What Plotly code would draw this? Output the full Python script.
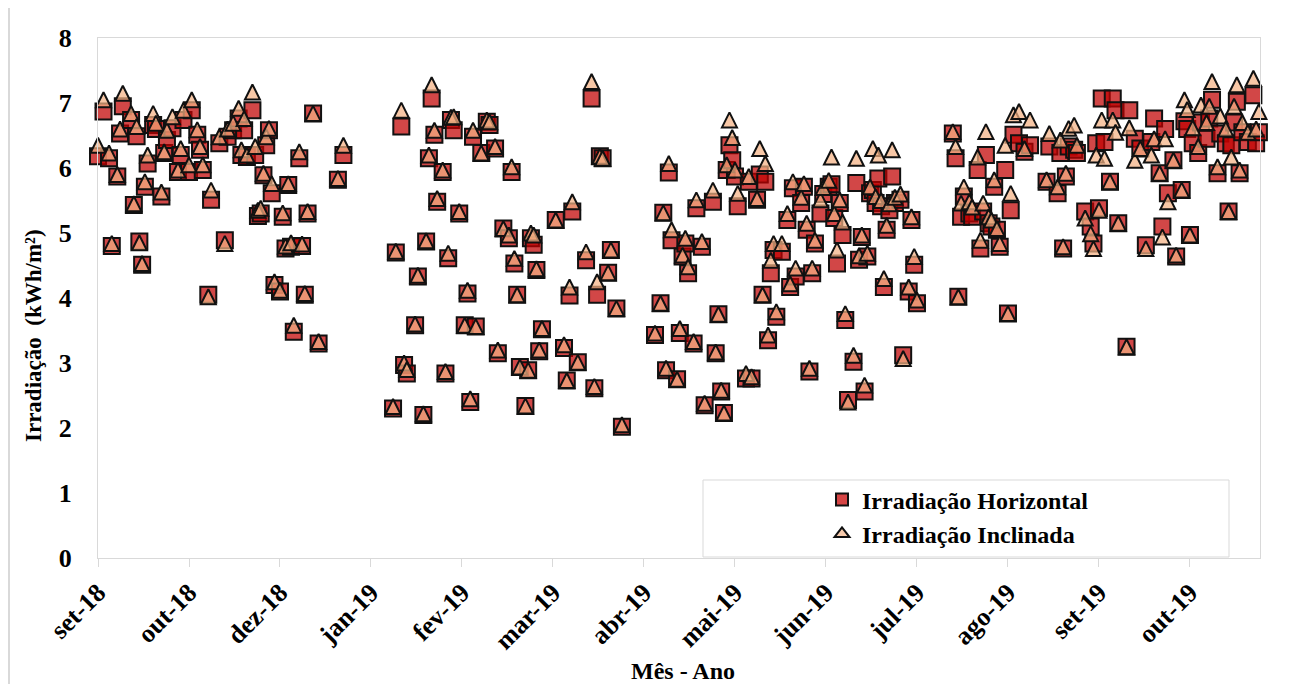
import pandas as pd
import plotly.graph_objects as go

# ---------------- data ----------------
data_inicio = "2018-09-27"          # first day of the series
passo_ticks_dias = 33               # spacing of the date ticks (days)
fim_eixo_dias = 421.4               # axis end, days after data_inicio

tick_labels = ["set-18", "out-18", "dez-18", "jan-19", "fev-19", "mar-19", "abr-19",
               "mai-19", "jun-19", "jul-19", "ago-19", "set-19", "out-19"]

# day number counted from data_inicio
dia = [
    0, 2, 4, 5, 7, 8, 9, 12, 13, 14, 15, 16, 17, 18, 20, 21, 23, 24, 25, 27, 29,
    30, 31, 33, 34, 36, 37, 38, 40, 41, 44, 46, 47, 49, 51, 52, 53, 54, 56, 57, 58, 59,
    60, 61, 62, 63, 64, 66, 67, 68, 69, 70, 71, 73, 74, 75, 76, 78, 80, 87, 89,
    107, 108, 110, 111, 112, 115, 116, 118, 119, 120, 121, 122, 123, 125,
    126, 127, 128, 129, 131, 133, 134, 135, 136, 137, 139, 141, 142, 144,
    145, 147, 149, 150, 151, 152, 153, 155, 156, 157, 158, 159, 160, 161,
    166, 169, 170, 171, 172, 174, 177, 179, 180, 181, 182, 183, 185, 186, 188, 190,
    202, 204, 205, 206, 207, 208, 210, 211, 212, 213, 214, 216, 217, 219,
    220, 223, 224, 225, 226, 227, 228, 229, 230, 231, 232, 235, 236, 237,
    239, 240, 241, 242, 243, 244, 245, 246, 248, 250, 251, 252, 253, 255,
    256, 257, 258, 259, 260, 262, 263, 265, 266, 267, 268, 269, 270, 271,
    272, 274, 275, 276, 277, 278, 279, 280, 281, 282, 283, 284, 285, 286,
    287, 288, 289, 291, 292, 294, 295, 296, 297,
    310, 311, 312, 313, 314, 316, 317, 319, 320, 321, 322, 323, 324, 325,
    326, 327, 329, 330, 331, 332, 334, 336, 338, 344, 345, 348, 349, 350,
    351, 352, 354, 355, 358, 360, 361, 362, 363, 364, 365, 367, 368, 369,
    370, 373, 374, 376, 378, 380, 382, 383, 385, 386, 387, 388, 390, 391,
    393, 394, 395, 396, 397, 399, 400, 402, 403, 404, 406, 407, 409, 410,
    411, 412, 413, 414, 415, 417, 419, 420, 421,
]

horizontal = [
    6.18, 6.87, 6.15, 4.80, 5.87, 6.53, 6.95, 6.74, 5.43, 6.49, 4.87, 4.51, 5.71, 6.07, 6.66, 6.60, 5.56, 6.23, 6.43, 6.61, 5.94,
    6.20, 6.74, 5.94, 6.89, 6.51, 6.28, 5.97, 4.05, 5.51, 6.38, 4.89, 6.48, 6.58, 6.76, 6.20, 6.58, 6.17, 6.89, 6.20, 5.26, 5.30,
    5.89, 6.35, 6.58, 5.61, 4.20, 4.10, 5.25, 4.76, 5.74, 4.79, 3.48, 6.15, 4.80, 4.05, 5.30, 6.84, 3.30, 5.82, 6.20,
    2.30, 4.70, 6.64, 2.97, 2.84, 3.58, 4.33, 2.20, 4.87, 6.15, 7.07, 6.51, 5.48, 5.94,
    2.84, 4.61, 6.74, 6.58, 5.30, 3.58, 4.07, 2.40, 6.48, 3.56, 6.23, 6.71, 6.66, 6.30,
    3.15, 5.07, 4.92, 5.94, 4.53, 4.05, 2.94, 2.34, 2.89, 4.92, 4.82, 4.43, 3.18, 3.52,
    5.20, 3.23, 2.73, 4.04, 5.33, 3.01, 4.58, 7.07, 2.61, 4.05, 6.18, 6.15, 4.39, 4.74, 3.84, 2.02,
    3.43, 3.92, 5.31, 2.89, 5.93, 4.89, 2.75, 3.46, 4.64, 4.84, 4.38, 3.30, 5.38, 4.79,
    2.35, 5.48, 3.15, 3.75, 2.56, 2.23, 5.97, 6.35, 6.12, 5.87, 5.41, 2.76, 5.79, 2.76,
    5.51, 5.90, 4.05, 5.79, 3.35, 4.38, 4.74, 3.71, 4.71, 5.20, 4.17, 5.69, 4.33, 5.46,
    5.71, 5.05, 2.87, 4.38, 4.84, 5.30, 5.60, 5.71, 5.75, 5.23, 4.53, 5.46, 4.97, 3.66,
    2.43, 3.02, 5.77, 4.59, 4.94, 2.56, 4.64, 5.61, 5.66, 5.46, 5.84, 5.41, 4.17, 5.05,
    5.35, 5.87, 5.46, 5.51, 3.12, 4.10, 5.20, 4.51, 3.92,
    6.53, 6.15, 4.02, 5.25, 5.56, 5.30, 5.25, 5.97, 4.76, 5.33, 6.20, 5.15, 5.10, 5.71,
    5.05, 4.79, 5.97, 3.76, 5.35, 6.51, 6.38, 6.25, 6.35, 5.79, 6.33, 5.61, 6.23, 4.76,
    5.87, 6.33, 6.28, 6.23, 5.33, 5.10, 4.84, 6.38, 5.38, 7.07, 6.40, 5.79, 7.07, 6.89,
    5.15, 3.25, 6.89, 6.45, 6.30, 4.81, 6.40, 6.76, 5.92, 5.10, 6.60, 5.61, 6.12, 4.64,
    5.66, 6.72, 6.60, 4.97, 6.38, 6.23, 6.70, 6.45, 6.76, 7.05, 5.92, 6.53, 6.38, 5.33,
    6.35, 6.70, 7.02, 5.92, 6.55, 6.40, 7.12, 6.38, 6.55,
]

inclinada = [
    6.35, 7.05, 6.23, 4.84, 5.90, 6.60, 7.15, 6.84, 5.45, 6.64, 4.85, 4.53, 5.79, 6.20, 6.84, 6.69, 5.63, 6.25, 6.58, 6.79, 5.97,
    6.30, 6.89, 6.05, 7.05, 6.59, 6.33, 6.05, 4.02, 5.66, 6.48, 4.84, 6.60, 6.69, 6.92, 6.28, 6.76, 6.20, 7.17, 6.33, 5.35, 5.38,
    5.92, 6.48, 6.61, 5.76, 4.25, 4.12, 5.31, 4.80, 5.76, 4.85, 3.58, 6.25, 4.83, 4.07, 5.33, 6.84, 3.33, 5.84, 6.35,
    2.33, 4.72, 6.89, 3.00, 2.90, 3.60, 4.35, 2.22, 4.88, 6.20, 7.28, 6.58, 5.53, 5.97,
    2.87, 4.69, 6.78, 6.79, 5.33, 3.58, 4.12, 2.45, 6.58, 3.56, 6.23, 6.74, 6.71, 6.33,
    3.20, 5.07, 4.97, 6.02, 4.61, 4.05, 2.94, 2.34, 2.89, 5.00, 4.97, 4.45, 3.20, 3.53,
    5.20, 3.28, 2.73, 4.17, 5.48, 3.01, 4.71, 7.33, 2.64, 4.25, 6.18, 6.15, 4.39, 4.74, 3.84, 2.05,
    3.46, 3.92, 5.31, 2.92, 6.07, 5.05, 2.75, 3.53, 4.66, 4.92, 4.48, 3.33, 5.51, 4.87,
    2.38, 5.66, 3.17, 3.75, 2.58, 2.23, 6.05, 6.74, 6.47, 5.97, 5.61, 2.84, 5.87, 2.79,
    5.53, 6.30, 4.05, 6.07, 3.43, 4.58, 4.84, 3.79, 4.84, 5.30, 4.22, 5.79, 4.46, 5.55,
    5.76, 5.15, 2.92, 4.46, 4.89, 5.51, 5.70, 5.81, 6.17, 5.30, 4.74, 5.51, 5.17, 3.76,
    2.40, 3.12, 6.15, 4.65, 4.97, 2.66, 4.69, 5.71, 6.30, 5.56, 6.20, 5.50, 4.30, 5.12,
    5.45, 6.28, 5.55, 5.60, 3.07, 4.17, 5.25, 4.64, 3.97,
    6.56, 6.33, 4.02, 5.46, 5.71, 5.48, 5.40, 6.17, 4.89, 5.46, 6.56, 5.25, 5.20, 5.82,
    5.07, 4.84, 6.35, 3.76, 5.61, 6.82, 6.87, 6.30, 6.74, 5.82, 6.53, 5.71, 6.43, 4.79,
    5.92, 6.61, 6.66, 6.35, 5.23, 4.99, 4.76, 6.20, 5.35, 6.74, 6.15, 5.79, 6.74, 6.55,
    5.15, 3.25, 6.62, 6.12, 6.30, 4.76, 6.20, 6.45, 5.92, 4.94, 6.45, 5.48, 6.12, 4.66,
    5.66, 7.05, 6.90, 4.97, 6.62, 6.33, 6.97, 6.70, 6.95, 7.33, 6.02, 6.80, 6.60, 5.33,
    6.17, 6.95, 7.28, 5.97, 6.70, 6.55, 7.38, 6.60, 6.87,
]

nome_h = "Irradiação Horizontal"
nome_i = "Irradiação Inclinada"
titulo_x = "Mês - Ano"
titulo_y = "Irradiação\u00a0 (kWh/m²)"

# ---------------- figure ----------------
inicio = pd.Timestamp(data_inicio)
datas = inicio + pd.to_timedelta(dia, unit="D")
tickvals = pd.date_range(inicio, periods=len(tick_labels), freq=f"{passo_ticks_dias}D")
fim = inicio + pd.Timedelta(days=fim_eixo_dias)

# the page body has an 8px margin: the figure starts at page pixel (8, 8)
OFF = 8
W, H = 1293 - OFF, 684 - OFF
PLOT_L, PLOT_R, PLOT_T, PLOT_B = 98, 1260, 38, 558      # page pixels
ML, MT = PLOT_L - OFF, PLOT_T - OFF
PW, PH = PLOT_R - PLOT_L, PLOT_B - PLOT_T
MR, MB = W - ML - PW, H - MT - PH

FONT = "Liberation Serif"
COR_H = "rgba(192,0,0,0.72)"
COR_I = "rgba(244,177,131,0.72)"
BORDA = "#d9d9d9"

SQ = 16
TRI = 15


def px_x(px):
    """page pixel -> paper x"""
    return (px - PLOT_L) / PW


def px_y(py):
    """page pixel -> paper y"""
    return (PLOT_B - py) / PH


fig = go.Figure()
fig.add_trace(go.Scatter(
    x=datas, y=horizontal, mode="markers", name=nome_h, showlegend=False, cliponaxis=False,
    marker=dict(symbol="square", size=SQ, color=COR_H, line=dict(color="#111111", width=2)),
))
# isosceles triangle (width = height) centred on the value
fig.add_trace(go.Scatter(
    x=datas, y=inclinada, mode="markers", name=nome_i, showlegend=False, cliponaxis=False,
    marker=dict(symbol="arrow-down", angle=180, standoff=TRI / 2, size=TRI, color=COR_I,
                line=dict(color="#111111", width=2)),
))
# legend entries
fig.add_trace(go.Scatter(
    x=[None], y=[None], mode="markers", name=nome_h,
    marker=dict(symbol="square", size=12, color="#d64545", line=dict(color="#111111", width=2)),
))
fig.add_trace(go.Scatter(
    x=[None], y=[None], mode="markers", name=nome_i,
    marker=dict(symbol="triangle-up", size=13, color="#f8cbad", line=dict(color="#111111", width=2)),
))

fig.update_layout(
    width=W, height=H,
    margin=dict(l=ML, r=MR, t=MT, b=MB, autoexpand=False),
    paper_bgcolor="white", plot_bgcolor="white",
    font=dict(family=FONT, size=22, color="black", weight="bold"),
    showlegend=True,
    xaxis=dict(
        type="date", range=[inicio, fim],
        tickmode="array", tickvals=tickvals, ticktext=tick_labels,
        tickangle=-45, ticks="outside", ticklen=8, tickcolor=BORDA, tickwidth=1,
        tickfont=dict(family=FONT, size=26, color="black", weight="bold"),
        showline=True, mirror=True, linecolor=BORDA, linewidth=1,
        showgrid=False, zeroline=False, automargin=False,
    ),
    yaxis=dict(
        range=[0, 8], tick0=0, dtick=1,
        ticks="", ticklabelstandoff=20,
        tickfont=dict(family=FONT, size=26, color="black", weight="bold"),
        showline=True, mirror=True, linecolor=BORDA, linewidth=1,
        showgrid=False, zeroline=False, automargin=False,
    ),
    legend=dict(
        x=px_x(822), y=px_y(517), xanchor="left", yanchor="middle",
        bgcolor="rgba(0,0,0,0)", borderwidth=0, itemwidth=30,
        font=dict(family=FONT, size=24, color="black", weight="bold"),
        tracegroupgap=0,
    ),
    annotations=[
        dict(text=titulo_x, xref="paper", yref="paper", x=px_x(683), y=px_y(671),
             xanchor="center", yanchor="middle", showarrow=False,
             font=dict(family=FONT, size=24, color="black", weight="bold")),
        dict(text=titulo_y, xref="paper", yref="paper", x=px_x(33), y=px_y(336),
             xanchor="center", yanchor="middle", showarrow=False, textangle=-90,
             font=dict(family=FONT, size=23, color="black", weight="bold")),
    ],
    shapes=[
        dict(type="rect", xref="paper", yref="paper",
             x0=px_x(703), x1=px_x(1229), y0=px_y(557), y1=px_y(480),
             line=dict(color=BORDA, width=1), fillcolor="white", layer="above"),
        dict(type="line", xref="paper", yref="paper",
             x0=px_x(9), x1=px_x(9), y0=px_y(684), y1=px_y(8),
             line=dict(color=BORDA, width=2)),
    ],
)

fig.write_html("out.html")
